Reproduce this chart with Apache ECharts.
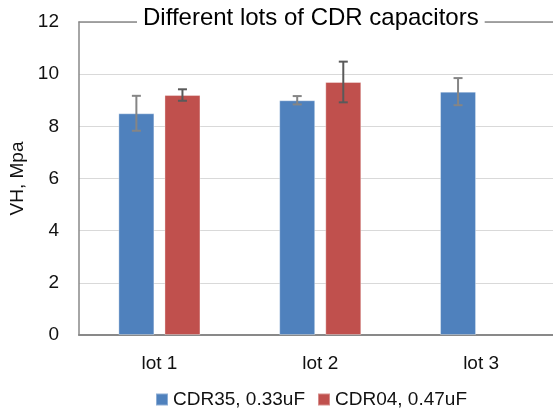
<!DOCTYPE html>
<html>
<head>
<meta charset="utf-8">
<script src="https://cdn.jsdelivr.net/npm/echarts@6/dist/echarts.min.js"></script>
<style>
  html, body { margin: 0; padding: 0; background: #fff; }
  #main { width: 553px; height: 410px; }
</style>
</head>
<body>
<div id="main"></div>
<script>
  'use strict';

  var categories = ['lot 1', 'lot 2', 'lot 3'];
  var seriesNames = ['CDR35, 0.33uF', 'CDR04, 0.47uF'];
  var cdr35Values = [8.5, 9.0, 9.33];
  var cdr35Errors = [0.67, 0.16, 0.52];
  var cdr04Values = [9.2, 9.7, null];
  var cdr04Errors = [0.22, 0.78, null];
  var yTicks = [0, 2, 4, 6, 8, 10, 12];

  var font = 'Liberation Sans, Arial, sans-serif';
  var frameColor = '#898989';
  var barWidth = 36;
  var barGap = 0.28;

  // one error bar per category, shifted to sit on its own bar
  function errorData(values, errors) {
    var out = [];
    values.forEach(function (v, i) {
      if (v != null) {
        out.push([i, v - errors[i], v + errors[i]]);
      }
    });
    return out;
  }

  function errorSeries(name, data, side, color) {
    var offset = side * (barWidth + barWidth * barGap) / 2;
    return {
      name: name,
      type: 'custom',
      z: 5,
      data: data,
      encode: { x: 0, y: [1, 2] },
      renderItem: function (params, api) {
        var lo = api.coord([api.value(0), api.value(1)]);
        var hi = api.coord([api.value(0), api.value(2)]);
        var x = lo[0] + offset;
        var cap = 4.5;
        var style = { stroke: color, lineWidth: 2, fill: null };
        return {
          type: 'group',
          children: [
            { type: 'line', shape: { x1: x, y1: hi[1], x2: x, y2: lo[1] }, style: style },
            { type: 'line', shape: { x1: x - cap, y1: hi[1], x2: x + cap, y2: hi[1] }, style: style },
            { type: 'line', shape: { x1: x - cap, y1: lo[1], x2: x + cap, y2: lo[1] }, style: style }
          ]
        };
      }
    };
  }

  var myChart = echarts.init(document.getElementById('main'));

  // the plot area runs past the right edge of the picture, as in the original
  var option = {
    animation: false,
    textStyle: { fontFamily: font },
    title: {
      text: 'Different lots of CDR capacitors',
      left: 137,
      top: 6,
      padding: [0, 6],
      backgroundColor: '#fff',
      textStyle: { fontFamily: font, fontSize: 24, fontWeight: 'normal', color: '#000' }
    },
    legend: {
      data: seriesNames,
      left: 150,
      top: 385,
      icon: 'rect',
      itemWidth: 12,
      itemHeight: 12,
      itemGap: 12,
      textStyle: { fontFamily: font, fontSize: 19, color: '#111' }
    },
    grid: {
      left: 79,
      right: -8.5,
      top: 22,
      bottom: 75,
      outerBoundsMode: 'none'
    },
    xAxis: [
      {
        type: 'category',
        data: categories,
        axisTick: { show: false },
        axisLine: { lineStyle: { color: frameColor, width: 2 } },
        axisLabel: { margin: 19, fontFamily: font, fontSize: 19, color: '#111' }
      },
      {
        // top frame line of the plot area
        type: 'category',
        data: categories,
        position: 'top',
        axisTick: { show: false },
        axisLabel: { show: false },
        axisLine: { lineStyle: { color: frameColor, width: 1.5 } }
      }
    ],
    yAxis: {
      type: 'value',
      min: yTicks[0],
      max: yTicks[yTicks.length - 1],
      interval: yTicks[1] - yTicks[0],
      name: 'VH, Mpa',
      nameLocation: 'middle',
      nameGap: 48,
      nameTextStyle: { fontFamily: font, fontSize: 19, color: '#111' },
      axisLine: { show: true, lineStyle: { color: frameColor, width: 1.5 } },
      axisTick: { show: false },
      axisLabel: { margin: 20, fontFamily: font, fontSize: 19, color: '#111' },
      splitLine: { lineStyle: { color: '#d9d9d9', width: 1 } }
    },
    series: [
      {
        name: seriesNames[0],
        type: 'bar',
        data: cdr35Values,
        barWidth: barWidth,
        barGap: (barGap * 100) + '%',
        itemStyle: { color: '#4f81bd', borderColor: 'rgba(255,255,255,0.35)', borderWidth: 1 }
      },
      {
        name: seriesNames[1],
        type: 'bar',
        data: cdr04Values,
        barWidth: barWidth,
        barGap: (barGap * 100) + '%',
        itemStyle: { color: '#c0504d', borderColor: 'rgba(255,255,255,0.35)', borderWidth: 1 }
      },
      errorSeries('err35', errorData(cdr35Values, cdr35Errors), -1, '#858585'),
      errorSeries('err04', errorData(cdr04Values, cdr04Errors), 1, '#5a5a5a')
    ]
  };

  myChart.setOption(option);
</script>
</body>
</html>
